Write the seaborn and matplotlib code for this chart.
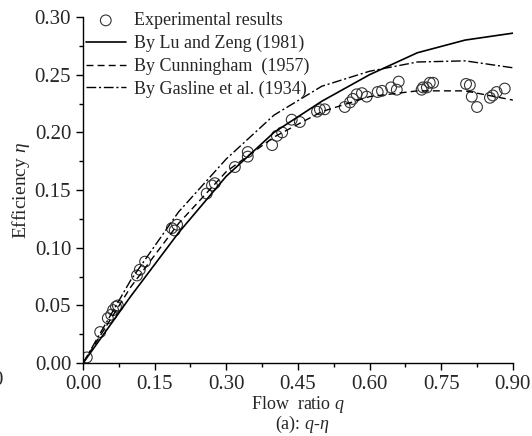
import numpy as np
import pandas as pd
import seaborn as sns
from matplotlib import pyplot as plt
from matplotlib.ticker import MultipleLocator

# experimental points
q_exp = [0.008, 0.036, 0.052, 0.059, 0.063, 0.069, 0.073, 0.113, 0.119, 0.130,
         0.186, 0.192, 0.197, 0.259, 0.270, 0.276, 0.318, 0.345, 0.345, 0.396,
         0.406, 0.417, 0.437, 0.454, 0.490, 0.496, 0.506, 0.548, 0.559, 0.565,
         0.573, 0.584, 0.594, 0.617, 0.626, 0.645, 0.657, 0.661, 0.709, 0.712,
         0.720, 0.726, 0.733, 0.802, 0.810, 0.814, 0.825, 0.852, 0.858, 0.866,
         0.883]
eta_exp = [0.005, 0.027, 0.039, 0.042, 0.046, 0.049, 0.050, 0.076, 0.081, 0.088,
           0.117, 0.115, 0.120, 0.147, 0.154, 0.156, 0.170, 0.183, 0.179, 0.189,
           0.197, 0.200, 0.211, 0.209, 0.218, 0.220, 0.220, 0.222, 0.226, 0.229,
           0.233, 0.234, 0.231, 0.235, 0.236, 0.239, 0.237, 0.244, 0.237, 0.239,
           0.239, 0.243, 0.243, 0.242, 0.241, 0.231, 0.222, 0.230, 0.232, 0.235,
           0.238]

# model curves
q_model = [0.0, 0.1, 0.2, 0.3, 0.4, 0.5, 0.6, 0.7, 0.8, 0.9]
eta_lu = [0.0, 0.058, 0.113, 0.162, 0.200, 0.227, 0.250, 0.269, 0.280, 0.286]
eta_cunningham = [0.0, 0.066, 0.121, 0.166, 0.196, 0.218, 0.231, 0.236, 0.236, 0.228]
eta_gasline = [0.0, 0.072, 0.131, 0.177, 0.215, 0.240, 0.253, 0.261, 0.262, 0.256]

sns.set_theme(style="ticks")
plt.rcParams["font.family"] = ["Liberation Serif", "DejaVu Serif"]
plt.rcParams["mathtext.fontset"] = "custom"
plt.rcParams["mathtext.rm"] = "Liberation Serif"
plt.rcParams["mathtext.it"] = "Liberation Serif:italic"

fig = plt.figure(figsize=(5.32, 4.36), dpi=100)
ax = fig.add_axes([0.156, 0.167, 0.808, 0.794])

exp_df = pd.DataFrame({"q": q_exp, "eta": eta_exp})
sns.scatterplot(data=exp_df, x="q", y="eta", ax=ax, marker="o", s=60,
                facecolor="none", edgecolor="#333333", linewidth=0.8,
                label="Experimental results")
sns.lineplot(x=q_model, y=eta_lu, ax=ax, color="black", linewidth=1.2,
             label="By Lu and Zeng (1981)")
sns.lineplot(x=q_model, y=eta_cunningham, ax=ax, color="black", linewidth=1.0,
             linestyle=(0, (5, 3)), label="By Cunningham  (1957)")
sns.lineplot(x=q_model, y=eta_gasline, ax=ax, color="black", linewidth=1.0,
             linestyle=(0, (7, 2, 1.5, 2)), label="By Gasline et al. (1934)")

ax.set_xlim(0, 0.9)
ax.set_ylim(0, 0.30)
ax.xaxis.set_major_locator(MultipleLocator(0.15))
ax.xaxis.set_minor_locator(MultipleLocator(0.075))
ax.yaxis.set_major_locator(MultipleLocator(0.05))
ax.yaxis.set_minor_locator(MultipleLocator(0.025))
ax.xaxis.set_major_formatter(lambda v, p: f"{v:.2f}")
ax.yaxis.set_major_formatter(lambda v, p: f"{v:.2f}")
ax.tick_params(which="major", length=5, width=1, labelsize=15, color="black")
ax.tick_params(which="minor", length=3, width=1, color="black")
for side in ["top", "right"]:
    ax.spines[side].set_visible(False)
for side in ["left", "bottom"]:
    ax.spines[side].set_color("black")
    ax.spines[side].set_linewidth(1.0)

ax.set_xlabel("Flow  ratio $q$", fontsize=13, labelpad=0)
ax.set_ylabel("Efficiency $\\eta$", fontsize=14, labelpad=2)
fig.text(0.568, 0.027, "(a): $q$-$\\eta$", fontsize=13, ha="center", va="center")
# clipped tick label left over from the neighbouring panel
fig.text(0.007, 0.128, "0.90", fontsize=15, ha="right", va="center")

ax.legend(loc="upper left", bbox_to_anchor=(-0.01, 1.035), frameon=False,
          fontsize=13, handlelength=2.2, handletextpad=0.45, labelspacing=0.31,
          borderaxespad=0.0)

fig.savefig("out.png", dpi=100)
